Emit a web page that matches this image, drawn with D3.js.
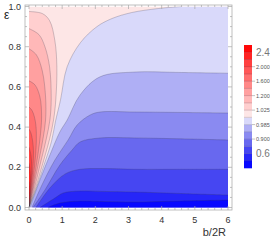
<!DOCTYPE html>
<html><head><meta charset="utf-8">
<script src="https://cdn.jsdelivr.net/npm/d3@7"></script>
<style>body{margin:0;background:#fff}svg{display:block}</style>
</head><body>
<svg id="c" width="270" height="240"></svg>
<script>
// ---- data ----
const xTicks = [0, 1, 2, 3, 4, 5, 6];
const yTicks = [0, 0.2, 0.4, 0.6, 0.8, 1.0];
const levels = [0.5, 0.55, 0.6, 0.8, 0.9, 0.95, 0.985, 1.0, 1.025, 1.1, 1.2, 1.4, 1.6, 1.8, 2.0, 2.2, 2.4, 2.6];
const bandColors = ["#0808ff", "#2626f8", "#4646f2", "#6868ef", "#8a8af1", "#afaff5", "#d9d9fa",
  "#fde6e6", "#ffcfcf", "#ffb8b8", "#ffa0a0", "#ff8888", "#ff7070", "#ff5858", "#ff4040", "#ff2424", "#ff0808"];
const barLabels = [
  {v: 2.4, t: "2.4", big: true}, {v: 2.0, t: "2.000"}, {v: 1.6, t: "1.600"}, {v: 1.2, t: "1.200"},
  {v: 1.025, t: "1.025"}, {v: 0.985, t: "0.985"}, {v: 0.9, t: "0.900"}, {v: 0.6, t: "0.6", big: true}];

// contours below 1 : from bottom edge to right/top edge  [b/2R, eps]
const lowLevels = [1.0, 0.985, 0.95, 0.9, 0.8, 0.6, 0.55];
const lowCurves = [
  [[0,0],[0.2,0.087],[0.45,0.21],[0.68,0.33],[0.8,0.43],[0.95,0.535],[1.15,0.7],[1.55,0.82],[2.05,0.9],[2.5,0.94],[3.1,0.97],[3.9,0.99],[4.6,1.0]],
  [[0.03,0],[0.33,0.137],[0.63,0.261],[0.93,0.376],[1.15,0.435],[1.54,0.56],[2.14,0.65],[3.2,0.674],[4.5,0.672],[6,0.668]],
  [[0.09,0],[0.39,0.112],[0.78,0.236],[1.18,0.336],[1.45,0.41],[1.84,0.46],[2.14,0.475],[3.2,0.475],[4.5,0.473],[6,0.47]],
  [[0.12,0],[0.48,0.087],[0.93,0.211],[1.3,0.286],[1.54,0.326],[2.14,0.346],[3.2,0.346],[4.5,0.342],[6,0.336]],
  [[0.21,0],[0.63,0.097],[1.09,0.167],[1.54,0.19],[2.2,0.194],[3.2,0.19],[4.5,0.19],[6,0.19]],
  [[0.33,0],[0.78,0.047],[1.03,0.072],[1.54,0.082],[2.2,0.08],[3.2,0.077],[4.5,0.07],[6,0.062]],
  [[0.57,0],[0.93,0.022],[1.54,0.032],[2.2,0.03],[3.2,0.027],[4.5,0.032],[6,0.037]]
];
// contours above 1 : from origin back to the eps axis
const highLevels = [1.025, 1.1, 1.2, 1.4, 1.6, 1.8, 2.0, 2.2, 2.4];
const highCurves = [
  [[0,0],[0.18,0.087],[0.4,0.21],[0.62,0.34],[0.74,0.435],[0.81,0.54],[0.84,0.7],[0.78,0.83],[0.62,0.93],[0.4,0.965],[0,0.975]],
  [[0,0],[0.15,0.087],[0.33,0.21],[0.52,0.34],[0.63,0.435],[0.67,0.54],[0.62,0.7],[0.48,0.8],[0.3,0.86],[0,0.89]],
  [[0,0],[0.12,0.087],[0.27,0.21],[0.42,0.34],[0.5,0.435],[0.5,0.55],[0.4,0.68],[0.22,0.76],[0,0.79]],
  [[0,0],[0.1,0.087],[0.22,0.21],[0.33,0.34],[0.38,0.45],[0.33,0.55],[0.18,0.61],[0,0.63]],
  [[0,0],[0.08,0.087],[0.17,0.21],[0.22,0.32],[0.2,0.42],[0.1,0.48],[0,0.5]],
  [[0,0],[0.06,0.087],[0.12,0.2],[0.13,0.3],[0.06,0.37],[0,0.39]],
  [[0,0],[0.045,0.08],[0.08,0.18],[0.06,0.26],[0,0.3]],
  [[0,0],[0.03,0.07],[0.045,0.14],[0.02,0.2],[0,0.22]],
  [[0,0],[0.015,0.05],[0.015,0.1],[0,0.13]]
];

// ---- drawing ----
const svg = d3.select("#c");
const x = d3.scaleLinear().domain([0, 6]).range([29, 228]);
const y = d3.scaleLinear().domain([0, 1]).range([207.5, 6.5]);
const frame = {l: 25, r: 232, t: 5, b: 210};

svg.append("defs").append("clipPath").attr("id", "clip").append("rect")
  .attr("x", x(0)).attr("y", y(1)).attr("width", x(6) - x(0)).attr("height", y(0) - y(1));

const line = d3.line().x(d => x(d[0])).y(d => y(d[1])).curve(d3.curveCatmullRom.alpha(0.5));
const g = svg.append("g").attr("clip-path", "url(#clip)");

g.append("rect").attr("x", x(0)).attr("y", y(1)).attr("width", x(6) - x(0)).attr("height", y(0) - y(1))
  .attr("fill", bandColors[levels.indexOf(1.0)]);

lowCurves.forEach((pts, i) => {
  const li = levels.indexOf(lowLevels[i]);
  let p = line(pts);
  const last = pts[pts.length - 1];
  if (last[0] < 6) p += `L${x(6)},${y(1)}`;
  p += `L${x(6)},${y(0)}Z`;
  g.append("path").attr("d", p).attr("fill", bandColors[li - 1]);
});
highCurves.forEach((pts, i) => {
  const li = levels.indexOf(highLevels[i]);
  g.append("path").attr("d", line(pts) + "Z").attr("fill", bandColors[li]);
});
lowCurves.concat(highCurves).forEach(pts => {
  g.append("path").attr("d", line(pts)).attr("fill", "none")
    .attr("stroke", "#3a3a50").attr("stroke-opacity", 0.35).attr("stroke-width", 0.7);
});

// frame
svg.append("rect").attr("x", frame.l).attr("y", frame.t).attr("width", frame.r - frame.l)
  .attr("height", frame.b - frame.t).attr("fill", "none").attr("stroke", "#b0b0b0").attr("stroke-width", 0.8);

const tk = svg.append("g").attr("stroke", "#a8a8a8").attr("stroke-width", 0.7);
d3.range(0, 6.001, 0.2).forEach(v => {
  const major = Math.abs(v - Math.round(v)) < 1e-6;
  const L = major ? 4 : 2;
  tk.append("line").attr("x1", x(v)).attr("x2", x(v)).attr("y1", frame.b).attr("y2", frame.b - L);
  tk.append("line").attr("x1", x(v)).attr("x2", x(v)).attr("y1", frame.t).attr("y2", frame.t + L);
});
d3.range(0, 1.0001, 0.05).forEach(v => {
  const major = Math.abs(v * 5 - Math.round(v * 5)) < 1e-6;
  const L = major ? 4 : 2;
  tk.append("line").attr("y1", y(v)).attr("y2", y(v)).attr("x1", frame.l).attr("x2", frame.l + L);
  tk.append("line").attr("y1", y(v)).attr("y2", y(v)).attr("x1", frame.r).attr("x2", frame.r - L);
});

const font = "Liberation Sans, Arial, sans-serif";
svg.append("g").selectAll("text").data(xTicks).join("text")
  .attr("x", d => x(d)).attr("y", 223).attr("text-anchor", "middle")
  .attr("font-family", font).attr("font-size", 9).attr("fill", "#333").text(d => d);
svg.append("g").selectAll("text").data(yTicks).join("text")
  .attr("x", 21).attr("y", d => y(d) + 3).attr("text-anchor", "end")
  .attr("font-family", font).attr("font-size", 9).attr("fill", "#333").text(d => d.toFixed(1));

svg.append("text").attr("x", 4).attr("y", 19).attr("font-family", font).attr("font-size", 12)
  .attr("fill", "#222").text("ε");
svg.append("text").attr("x", 226).attr("y", 236).attr("text-anchor", "end").attr("font-family", font)
  .attr("font-size", 11).attr("fill", "#333").text("b/2R");

// colour bar
const cb = d3.scaleLinear().domain(d3.range(levels.length).map(i => levels[i]))
  .range(d3.range(levels.length).map(i => 168 - i * (123 / (levels.length - 1))));
const cbg = svg.append("g");
bandColors.forEach((c, i) => {
  cbg.append("rect").attr("x", 244).attr("width", 8).attr("y", cb(levels[i + 1]))
    .attr("height", cb(levels[i]) - cb(levels[i + 1]) + 0.3).attr("fill", c);
});
levels.slice(1, -1).forEach(v => {
  cbg.append("line").attr("x1", 244).attr("x2", 252).attr("y1", cb(v)).attr("y2", cb(v))
    .attr("stroke", "#3a3a50").attr("stroke-opacity", 0.3).attr("stroke-width", 0.6);
});
barLabels.forEach(d => {
  if (!d.big) cbg.append("line").attr("x1", 252).attr("x2", 255).attr("y1", cb(d.v)).attr("y2", cb(d.v))
    .attr("stroke", "#999").attr("stroke-width", 0.6);
  cbg.append("text").attr("x", 256).attr("y", cb(d.v) + (d.big ? 3.5 : 2))
    .attr("font-family", font).attr("font-size", d.big ? 10 : 5.5).attr("fill", d.big ? "#777" : "#555").text(d.t);
});
</script>
</body></html>
